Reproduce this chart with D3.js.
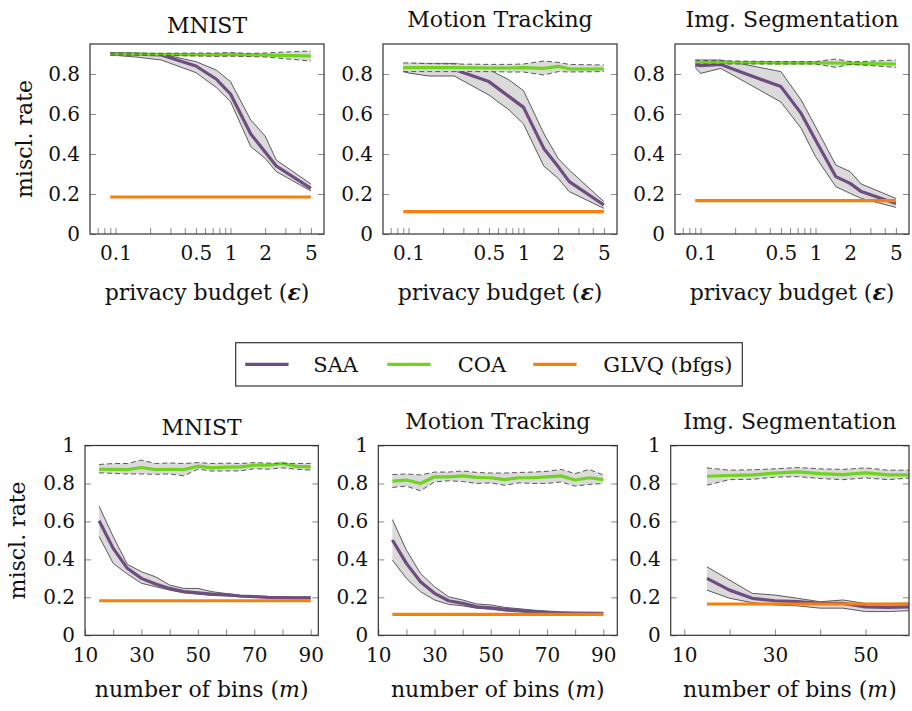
<!DOCTYPE html>
<html>
<head>
<meta charset="utf-8">
<script src="https://cdn.jsdelivr.net/npm/d3@7"></script>
<style>
  body { margin: 0; background: #fff; }
  text { font-family: "DejaVu Serif", serif; fill: #111; }
  .tick line { stroke: #8a8a8a; }
  .tick text { font-size: 20px; font-family: "DejaVu Serif", serif; fill: #111; }
</style>
</head>
<body>
<div id="chart"></div>
<script>
// ---- data ----
var epsValues = [0.09, 0.1, 0.15, 0.25, 0.5, 0.75, 1, 1.5, 2, 2.5, 5];
var epsMajorTicks = [0.1, 0.5, 1, 2, 5];
var epsTickLabels = ["0.1", "0.5", "1", "2", "5"];
var epsMinorTicks = [0.07, 0.08, 0.09, 0.2, 0.3, 0.4, 0.6, 0.7, 0.8, 0.9, 3, 4];

var binValues = [15, 20, 25, 30, 35, 40, 45, 50, 55, 60, 65, 70, 75, 80, 85, 90];
var binValuesSeg = [15, 20, 25, 30, 35, 40, 45, 50, 55, 60];
var binTicks = [10, 20, 30, 40, 50, 60, 70, 80, 90];
var binTickLabels = ["10", "", "30", "", "50", "", "70", "", "90"];

var titles = ["MNIST", "Motion Tracking", "Img. Segmentation"];
var legendLabels = ["SAA", "COA", "GLVQ (bfgs)"];

// top row: misclassification rate vs privacy budget
var mnistEpsSaaMean = [0.902, 0.901, 0.899, 0.895, 0.84, 0.775, 0.70, 0.50, 0.41, 0.34, 0.228];
var mnistEpsSaaHigh = [0.906, 0.906, 0.903, 0.90, 0.862, 0.82, 0.762, 0.57, 0.49, 0.37, 0.25];
var mnistEpsSaaLow  = [0.895, 0.893, 0.885, 0.87, 0.807, 0.733, 0.662, 0.437, 0.378, 0.312, 0.215];
var mnistEpsCoaMean = [0.90, 0.90, 0.899, 0.898, 0.897, 0.897, 0.898, 0.896, 0.895, 0.893, 0.89];
var mnistEpsCoaHigh = [0.905, 0.905, 0.904, 0.903, 0.905, 0.905, 0.907, 0.903, 0.905, 0.908, 0.915];
var mnistEpsCoaLow  = [0.895, 0.895, 0.894, 0.893, 0.89, 0.888, 0.889, 0.887, 0.885, 0.88, 0.865];
var mnistGlvq = 0.185;

var motionEpsSaaMean = [0.828, 0.826, 0.824, 0.823, 0.762, 0.687, 0.633, 0.428, 0.337, 0.262, 0.145];
var motionEpsSaaHigh = [0.853, 0.853, 0.853, 0.853, 0.823, 0.77, 0.717, 0.503, 0.378, 0.32, 0.162];
var motionEpsSaaLow  = [0.812, 0.805, 0.79, 0.79, 0.695, 0.62, 0.55, 0.34, 0.278, 0.212, 0.128];
var motionEpsCoaMean = [0.832, 0.832, 0.832, 0.832, 0.83, 0.83, 0.832, 0.828, 0.838, 0.826, 0.825];
var motionEpsCoaHigh = [0.855, 0.855, 0.852, 0.85, 0.848, 0.848, 0.85, 0.865, 0.858, 0.848, 0.845];
var motionEpsCoaLow  = [0.812, 0.812, 0.812, 0.812, 0.812, 0.81, 0.81, 0.795, 0.812, 0.81, 0.812];
var motionGlvq = 0.112;

var segEpsSaaMean = [0.845, 0.842, 0.848, 0.80, 0.737, 0.603, 0.47, 0.287, 0.253, 0.212, 0.153];
var segEpsSaaHigh = [0.87, 0.87, 0.87, 0.846, 0.812, 0.67, 0.537, 0.345, 0.312, 0.25, 0.178];
var segEpsSaaLow  = [0.833, 0.803, 0.828, 0.757, 0.66, 0.528, 0.387, 0.237, 0.203, 0.178, 0.133];
var segEpsCoaMean = [0.858, 0.858, 0.858, 0.857, 0.856, 0.856, 0.856, 0.855, 0.853, 0.852, 0.85];
var segEpsCoaHigh = [0.868, 0.868, 0.866, 0.864, 0.862, 0.862, 0.862, 0.875, 0.862, 0.862, 0.87];
var segEpsCoaLow  = [0.85, 0.85, 0.85, 0.85, 0.85, 0.85, 0.85, 0.833, 0.848, 0.845, 0.833];
var segGlvq = 0.167;

// bottom row: misclassification rate vs number of bins
var mnistBinSaaMean = [0.603, 0.458, 0.353, 0.30, 0.27, 0.247, 0.23, 0.224, 0.217, 0.214, 0.207, 0.204, 0.2, 0.198, 0.197, 0.197];
var mnistBinSaaHigh = [0.68, 0.52, 0.374, 0.335, 0.308, 0.265, 0.247, 0.247, 0.23, 0.22, 0.21, 0.208, 0.204, 0.203, 0.202, 0.202];
var mnistBinSaaLow  = [0.52, 0.379, 0.323, 0.274, 0.256, 0.238, 0.224, 0.217, 0.21, 0.207, 0.203, 0.2, 0.198, 0.197, 0.196, 0.195];
var mnistBinCoaMean = [0.875, 0.874, 0.873, 0.884, 0.873, 0.875, 0.873, 0.891, 0.882, 0.886, 0.887, 0.896, 0.896, 0.905, 0.89, 0.887];
var mnistBinCoaHigh = [0.90, 0.905, 0.905, 0.923, 0.905, 0.908, 0.905, 0.91, 0.905, 0.907, 0.905, 0.91, 0.907, 0.907, 0.905, 0.905];
var mnistBinCoaLow  = [0.856, 0.853, 0.85, 0.85, 0.848, 0.85, 0.84, 0.875, 0.865, 0.866, 0.866, 0.878, 0.875, 0.882, 0.875, 0.87];
var mnistBinGlvq = 0.182;

var motionBinSaaMean = [0.502, 0.379, 0.282, 0.221, 0.182, 0.168, 0.15, 0.145, 0.137, 0.132, 0.125, 0.12, 0.116, 0.116, 0.115, 0.115];
var motionBinSaaHigh = [0.61, 0.449, 0.326, 0.256, 0.203, 0.186, 0.165, 0.16, 0.147, 0.14, 0.133, 0.128, 0.124, 0.122, 0.121, 0.12];
var motionBinSaaLow  = [0.396, 0.30, 0.23, 0.186, 0.163, 0.155, 0.143, 0.137, 0.128, 0.123, 0.118, 0.114, 0.112, 0.11, 0.108, 0.107];
var motionBinCoaMean = [0.812, 0.818, 0.80, 0.835, 0.835, 0.84, 0.832, 0.83, 0.82, 0.83, 0.83, 0.835, 0.84, 0.818, 0.83, 0.82];
var motionBinCoaHigh = [0.847, 0.85, 0.845, 0.86, 0.86, 0.866, 0.858, 0.855, 0.855, 0.858, 0.86, 0.864, 0.874, 0.852, 0.874, 0.845];
var motionBinCoaLow  = [0.779, 0.786, 0.761, 0.808, 0.814, 0.81, 0.8, 0.803, 0.79, 0.803, 0.8, 0.8, 0.808, 0.786, 0.795, 0.8];
var motionBinGlvq = 0.11;

var segBinSaaMean = [0.30, 0.238, 0.195, 0.182, 0.177, 0.168, 0.168, 0.15, 0.147, 0.15];
var segBinSaaHigh = [0.361, 0.291, 0.221, 0.212, 0.195, 0.177, 0.186, 0.168, 0.168, 0.17];
var segBinSaaLow  = [0.238, 0.195, 0.172, 0.16, 0.155, 0.143, 0.143, 0.125, 0.125, 0.13];
var segBinCoaMean = [0.838, 0.842, 0.845, 0.854, 0.861, 0.852, 0.847, 0.856, 0.845, 0.845];
var segBinCoaHigh = [0.882, 0.87, 0.872, 0.877, 0.884, 0.877, 0.874, 0.882, 0.87, 0.87];
var segBinCoaLow  = [0.791, 0.82, 0.822, 0.833, 0.836, 0.826, 0.82, 0.829, 0.82, 0.829];
var segBinGlvq = 0.165;

var yTicksTop = [0, 0.2, 0.4, 0.6, 0.8];
var yTicksBottom = [0, 0.2, 0.4, 0.6, 0.8, 1];

// ---- styling / layout ----
var colSaa = "#704d80", colCoa = "#6fd31f", colGlvq = "#f77f0a";
var bandFill = "#dadada", bandEdge = "#4a4a4a";

var svg = d3.select("#chart").append("svg")
    .attr("width", 912)
    .attr("height", 711);

function fmtY(d) { return d === 0 ? "0" : (d === 1 ? "1" : String(d)); }

function drawPanel(p) {
  var g = svg.append("g").attr("transform", "translate(" + p.left + "," + p.top + ")");
  var w = p.width, h = p.height;

  var x = (p.log ? d3.scaleLog() : d3.scaleLinear()).domain(p.xDomain).range([0, w]);
  var y = d3.scaleLinear().domain(p.yDomain).range([h, 0]);

  var clipId = "clip" + p.id;
  g.append("clipPath").attr("id", clipId)
    .append("rect").attr("width", w).attr("height", h);

  // ticks
  var xAxis = d3.axisBottom(x).tickValues(p.xTicks).tickSize(-6).tickSizeOuter(0)
      .tickPadding(p.xPad)
      .tickFormat(function(d, i) { return p.xLabels[i]; });
  var gx = g.append("g").attr("transform", "translate(0," + h + ")").call(xAxis);
  gx.select(".domain").remove();
  if (p.xMinor) {
    var gm = g.append("g").attr("transform", "translate(0," + h + ")")
        .call(d3.axisBottom(x).tickValues(p.xMinor).tickSize(-6).tickSizeOuter(0).tickFormat(""));
    gm.select(".domain").remove();
  }
  var gy = g.append("g").call(d3.axisLeft(y).tickValues(p.yTicks).tickSize(-6).tickSizeOuter(0)
      .tickPadding(10).tickFormat(fmtY));
  gy.select(".domain").remove();
  var gr = g.append("g").attr("transform", "translate(" + w + ",0)")
      .call(d3.axisRight(y).tickValues(p.yTicks).tickSize(-6).tickSizeOuter(0).tickFormat(""));
  gr.select(".domain").remove();

  var plot = g.append("g").attr("clip-path", "url(#" + clipId + ")");
  var xs = p.xs;

  function band(low, high, dashed) {
    var area = d3.area()
        .x(function(d, i) { return x(xs[i]); })
        .y0(function(d, i) { return y(low[i]); })
        .y1(function(d, i) { return y(high[i]); });
    plot.append("path").datum(low).attr("d", area).attr("fill", bandFill);
    return function() {
      [low, high].forEach(function(arr) {
        plot.append("path").datum(arr)
          .attr("d", d3.line().x(function(d, i) { return x(xs[i]); }).y(function(d) { return y(d); }))
          .attr("fill", "none")
          .attr("stroke", bandEdge)
          .attr("stroke-width", 0.9)
          .attr("stroke-dasharray", dashed ? "5,3" : null);
      });
    };
  }
  function meanLine(arr, col) {
    plot.append("path").datum(arr)
      .attr("d", d3.line().x(function(d, i) { return x(xs[i]); }).y(function(d) { return y(d); }))
      .attr("fill", "none").attr("stroke", col).attr("stroke-width", 3.2)
      .attr("stroke-linejoin", "round");
  }

  var saaEdges = band(p.saaLow, p.saaHigh, false);
  saaEdges();
  meanLine(p.saaMean, colSaa);
  var coaEdges = band(p.coaLow, p.coaHigh, true);
  meanLine(p.coaMean, colCoa);
  coaEdges();

  // GLVQ reference as a flat line over the same x range
  plot.append("line")
    .attr("x1", x(xs[0])).attr("x2", x(xs[xs.length - 1]))
    .attr("y1", y(p.glvq)).attr("y2", y(p.glvq))
    .attr("stroke", colGlvq).attr("stroke-width", 3.2);

  // frame
  g.append("rect").attr("width", w).attr("height", h)
    .attr("fill", "none").attr("stroke", "#333").attr("stroke-width", 1.2);

  // title
  g.append("text").attr("x", w / 2).attr("y", p.titleY)
    .attr("text-anchor", "middle").style("font-size", "22px").text(p.title);

  // x label
  if (p.xLabel) {
    var t = g.append("text").attr("x", w / 2).attr("y", h + p.xLabelY)
      .attr("text-anchor", "middle").style("font-size", "22px");
    t.append("tspan").text(p.xLabel[0]);
    t.append("tspan").style("font-style", "italic").style("font-weight", p.xLabel[2]).text(p.xLabel[1]);
    t.append("tspan").text(")");
  }
  if (p.yLabel) {
    g.append("text")
      .attr("transform", "translate(" + (-p.yLabelX) + "," + (h / 2) + ") rotate(-90)")
      .attr("text-anchor", "middle").style("font-size", "22px").text("miscl. rate");
  }
}

// top row
var topLefts = [90, 383, 675];
var topData = [
  [mnistEpsSaaMean, mnistEpsSaaLow, mnistEpsSaaHigh, mnistEpsCoaMean, mnistEpsCoaLow, mnistEpsCoaHigh, mnistGlvq],
  [motionEpsSaaMean, motionEpsSaaLow, motionEpsSaaHigh, motionEpsCoaMean, motionEpsCoaLow, motionEpsCoaHigh, motionGlvq],
  [segEpsSaaMean, segEpsSaaLow, segEpsSaaHigh, segEpsCoaMean, segEpsCoaLow, segEpsCoaHigh, segGlvq]
];
topData.forEach(function(d, i) {
  drawPanel({
    id: "t" + i, left: topLefts[i], top: 44, width: 234, height: 190,
    log: true, xDomain: [0.06, 6.5], yDomain: [0, 0.95],
    xs: epsValues, xTicks: epsMajorTicks, xLabels: epsTickLabels, xMinor: epsMinorTicks, xPad: 12,
    yTicks: yTicksTop,
    saaMean: d[0], saaLow: d[1], saaHigh: d[2], coaMean: d[3], coaLow: d[4], coaHigh: d[5], glvq: d[6],
    title: titles[i], titleY: i === 0 ? -11 : -17,
    xLabel: ["privacy budget (", "ε", "bold"], xLabelY: 66,
    yLabel: i === 0, yLabelX: 58
  });
});

// bottom row
var botLefts = [85, 378.3, 670.7];
var botWidths = [233.3, 239, 238.3];
var botDomains = [[10, 92.7], [10, 95], [7, 59.6]];
var botXs = [binValues, binValues, binValuesSeg];
var botData = [
  [mnistBinSaaMean, mnistBinSaaLow, mnistBinSaaHigh, mnistBinCoaMean, mnistBinCoaLow, mnistBinCoaHigh, mnistBinGlvq],
  [motionBinSaaMean, motionBinSaaLow, motionBinSaaHigh, motionBinCoaMean, motionBinCoaLow, motionBinCoaHigh, motionBinGlvq],
  [segBinSaaMean, segBinSaaLow, segBinSaaHigh, segBinCoaMean, segBinCoaLow, segBinCoaHigh, segBinGlvq]
];
botData.forEach(function(d, i) {
  var dom = botDomains[i];
  var ticks = binTicks.filter(function(v) { return v >= dom[0] && v <= dom[1]; });
  var labels = binTickLabels.filter(function(v, k) { return binTicks[k] >= dom[0] && binTicks[k] <= dom[1]; });
  drawPanel({
    id: "b" + i, left: botLefts[i], top: 445.5, width: botWidths[i], height: 189.8,
    log: false, xDomain: dom, yDomain: [0, 1],
    xs: botXs[i], xTicks: ticks, xLabels: labels, xPad: 13,
    yTicks: yTicksBottom,
    saaMean: d[0], saaLow: d[1], saaHigh: d[2], coaMean: d[3], coaLow: d[4], coaHigh: d[5], glvq: d[6],
    title: titles[i], titleY: i === 0 ? -11 : -17,
    xLabel: ["number of bins (", "m", "normal"], xLabelY: 62,
    yLabel: i === 0, yLabelX: 60
  });
});

// legend
var legend = svg.append("g").attr("transform", "translate(235.7,342.7)");
legend.append("rect").attr("width", 506.6).attr("height", 43.3)
  .attr("fill", "#fff").attr("stroke", "#333").attr("stroke-width", 1.2);
var legendCols = [colSaa, colCoa, colGlvq];
var legendLineX = [9.5, 151.6, 297.6];
var legendTextX = [77.6, 222, 367.6];
legendLabels.forEach(function(lab, i) {
  legend.append("line")
    .attr("x1", legendLineX[i]).attr("x2", legendLineX[i] + 43.3)
    .attr("y1", 21.6).attr("y2", 21.6)
    .attr("stroke", legendCols[i]).attr("stroke-width", 3.2);
  legend.append("text").attr("x", legendTextX[i]).attr("y", 29)
    .style("font-size", "21px").text(lab);
});
</script>
</body>
</html>
